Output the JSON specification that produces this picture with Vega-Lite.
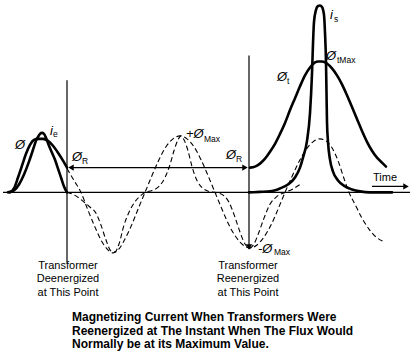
{
  "$schema": "https://vega.github.io/schema/vega-lite/v6.json",
  "width": 415,
  "height": 356,
  "autosize": {"type": "fit", "contains": "padding"},
  "padding": 0,
  "background": "white",
  "config": {"view": {"stroke": null}, "font": "Liberation Sans"},
  "datasets": {
    "thick": [
      {"s": "phi", "x": 10, "v": 0}, {"s": "phi", "x": 14, "v": 4}, {"s": "phi", "x": 18, "v": 15}, {"s": "phi", "x": 22, "v": 27}, {"s": "phi", "x": 26, "v": 39}, {"s": "phi", "x": 30, "v": 48}, {"s": "phi", "x": 34, "v": 53}, {"s": "phi", "x": 38, "v": 54}, {"s": "phi", "x": 43, "v": 54}, {"s": "phi", "x": 48, "v": 52}, {"s": "phi", "x": 53, "v": 47}, {"s": "phi", "x": 58, "v": 40}, {"s": "phi", "x": 63, "v": 32}, {"s": "phi", "x": 67, "v": 25},
      {"s": "ie", "x": 8, "v": 0}, {"s": "ie", "x": 14, "v": 2}, {"s": "ie", "x": 19, "v": 8}, {"s": "ie", "x": 24, "v": 18}, {"s": "ie", "x": 29, "v": 31}, {"s": "ie", "x": 33, "v": 43}, {"s": "ie", "x": 36, "v": 52}, {"s": "ie", "x": 38, "v": 56}, {"s": "ie", "x": 40, "v": 59}, {"s": "ie", "x": 42, "v": 60}, {"s": "ie", "x": 44, "v": 59}, {"s": "ie", "x": 46, "v": 55}, {"s": "ie", "x": 49, "v": 47}, {"s": "ie", "x": 52, "v": 40}, {"s": "ie", "x": 55, "v": 33}, {"s": "ie", "x": 58, "v": 24}, {"s": "ie", "x": 61, "v": 15}, {"s": "ie", "x": 64, "v": 6}, {"s": "ie", "x": 67, "v": 0},
      {"s": "phit", "x": 250, "v": 25}, {"s": "phit", "x": 255, "v": 26}, {"s": "phit", "x": 260, "v": 29}, {"s": "phit", "x": 265, "v": 34}, {"s": "phit", "x": 270, "v": 41}, {"s": "phit", "x": 275, "v": 49}, {"s": "phit", "x": 280, "v": 59}, {"s": "phit", "x": 285, "v": 70}, {"s": "phit", "x": 290, "v": 83}, {"s": "phit", "x": 295, "v": 95}, {"s": "phit", "x": 300, "v": 107}, {"s": "phit", "x": 305, "v": 118}, {"s": "phit", "x": 310, "v": 126}, {"s": "phit", "x": 315, "v": 131}, {"s": "phit", "x": 318, "v": 132}, {"s": "phit", "x": 322, "v": 132}, {"s": "phit", "x": 327, "v": 130}, {"s": "phit", "x": 332, "v": 125}, {"s": "phit", "x": 337, "v": 118}, {"s": "phit", "x": 342, "v": 109}, {"s": "phit", "x": 347, "v": 98}, {"s": "phit", "x": 352, "v": 86}, {"s": "phit", "x": 357, "v": 74}, {"s": "phit", "x": 362, "v": 62}, {"s": "phit", "x": 367, "v": 51}, {"s": "phit", "x": 372, "v": 42}, {"s": "phit", "x": 377, "v": 35}, {"s": "phit", "x": 382, "v": 30}, {"s": "phit", "x": 386, "v": 26},
      {"s": "is", "x": 249, "v": 0}, {"s": "is", "x": 260, "v": 0.5}, {"s": "is", "x": 270, "v": 1}, {"s": "is", "x": 280, "v": 4}, {"s": "is", "x": 288, "v": 8}, {"s": "is", "x": 295, "v": 15}, {"s": "is", "x": 300, "v": 25}, {"s": "is", "x": 303, "v": 35}, {"s": "is", "x": 307, "v": 52}, {"s": "is", "x": 310, "v": 80}, {"s": "is", "x": 312, "v": 120}, {"s": "is", "x": 313, "v": 150}, {"s": "is", "x": 314, "v": 172}, {"s": "is", "x": 316, "v": 184}, {"s": "is", "x": 318, "v": 188}, {"s": "is", "x": 320, "v": 188.5}, {"s": "is", "x": 322, "v": 187}, {"s": "is", "x": 324, "v": 179}, {"s": "is", "x": 325, "v": 161}, {"s": "is", "x": 326, "v": 131}, {"s": "is", "x": 326.5, "v": 101}, {"s": "is", "x": 327, "v": 71}, {"s": "is", "x": 328, "v": 51}, {"s": "is", "x": 330, "v": 33}, {"s": "is", "x": 333, "v": 21}, {"s": "is", "x": 338, "v": 12}, {"s": "is", "x": 345, "v": 6}, {"s": "is", "x": 352, "v": 3}, {"s": "is", "x": 360, "v": 1}, {"s": "is", "x": 370, "v": 0}, {"s": "is", "x": 392, "v": 0}
    ],
    "dashed": [
      {"s": "A", "x": 67, "v": 24}, {"s": "A", "x": 74, "v": 12}, {"s": "A", "x": 81, "v": 0}, {"s": "A", "x": 88, "v": -18}, {"s": "A", "x": 95, "v": -35}, {"s": "A", "x": 101, "v": -48}, {"s": "A", "x": 107, "v": -57}, {"s": "A", "x": 113, "v": -61}, {"s": "A", "x": 119, "v": -57}, {"s": "A", "x": 125, "v": -47}, {"s": "A", "x": 132, "v": -32}, {"s": "A", "x": 138, "v": -17}, {"s": "A", "x": 145, "v": 0}, {"s": "A", "x": 152, "v": 17}, {"s": "A", "x": 159, "v": 33}, {"s": "A", "x": 166, "v": 46}, {"s": "A", "x": 173, "v": 54}, {"s": "A", "x": 180, "v": 57}, {"s": "A", "x": 187, "v": 54}, {"s": "A", "x": 194, "v": 46}, {"s": "A", "x": 201, "v": 33}, {"s": "A", "x": 208, "v": 17}, {"s": "A", "x": 215, "v": 0}, {"s": "A", "x": 222, "v": -17}, {"s": "A", "x": 229, "v": -33}, {"s": "A", "x": 236, "v": -45}, {"s": "A", "x": 243, "v": -53}, {"s": "A", "x": 250, "v": -56}, {"s": "A", "x": 257, "v": -53}, {"s": "A", "x": 264, "v": -45}, {"s": "A", "x": 271, "v": -33}, {"s": "A", "x": 278, "v": -17}, {"s": "A", "x": 285, "v": 0}, {"s": "A", "x": 292, "v": 16}, {"s": "A", "x": 299, "v": 31}, {"s": "A", "x": 306, "v": 43}, {"s": "A", "x": 313, "v": 51}, {"s": "A", "x": 320, "v": 54}, {"s": "A", "x": 326, "v": 52}, {"s": "A", "x": 332, "v": 45}, {"s": "A", "x": 338, "v": 32}, {"s": "A", "x": 344, "v": 14}, {"s": "A", "x": 349, "v": 0}, {"s": "A", "x": 355, "v": -12}, {"s": "A", "x": 362, "v": -26}, {"s": "A", "x": 369, "v": -37}, {"s": "A", "x": 376, "v": -45}, {"s": "A", "x": 385, "v": -50},
      {"s": "B", "x": 67, "v": 0}, {"s": "B", "x": 75, "v": -3}, {"s": "B", "x": 82, "v": -8}, {"s": "B", "x": 89, "v": -14}, {"s": "B", "x": 96, "v": -21}, {"s": "B", "x": 101, "v": -33}, {"s": "B", "x": 106, "v": -48}, {"s": "B", "x": 111, "v": -59}, {"s": "B", "x": 115, "v": -60}, {"s": "B", "x": 119, "v": -52}, {"s": "B", "x": 124, "v": -33}, {"s": "B", "x": 130, "v": -18}, {"s": "B", "x": 136, "v": -8}, {"s": "B", "x": 141, "v": -3}, {"s": "B", "x": 145, "v": 0}, {"s": "B", "x": 152, "v": 2}, {"s": "B", "x": 159, "v": 6}, {"s": "B", "x": 165, "v": 15}, {"s": "B", "x": 170, "v": 28}, {"s": "B", "x": 174, "v": 42}, {"s": "B", "x": 178, "v": 53}, {"s": "B", "x": 181, "v": 57}, {"s": "B", "x": 184, "v": 53}, {"s": "B", "x": 188, "v": 42}, {"s": "B", "x": 192, "v": 26}, {"s": "B", "x": 197, "v": 12}, {"s": "B", "x": 203, "v": 4}, {"s": "B", "x": 209, "v": 1}, {"s": "B", "x": 215, "v": 0}, {"s": "B", "x": 222, "v": -2}, {"s": "B", "x": 229, "v": -10}, {"s": "B", "x": 235, "v": -25}, {"s": "B", "x": 240, "v": -40}, {"s": "B", "x": 245, "v": -52}, {"s": "B", "x": 250, "v": -56}, {"s": "B", "x": 254, "v": -52}, {"s": "B", "x": 259, "v": -40}, {"s": "B", "x": 264, "v": -26}, {"s": "B", "x": 270, "v": -12}, {"s": "B", "x": 277, "v": -4}, {"s": "B", "x": 285, "v": 0}, {"s": "B", "x": 292, "v": 3}, {"s": "B", "x": 300, "v": 8}
    ],
    "lines": [
      {"x": 3, "v": 0, "x2": 410, "v2": 0},
      {"x": 67, "v": 113, "x2": 67, "v2": -71},
      {"x": 249, "v": 138, "x2": 249, "v2": -57},
      {"x": 70, "v": 25, "x2": 246, "v2": 25},
      {"x": 372, "v": 6, "x2": 405, "v2": 6}
    ],
    "heads": [
      {"dir": "left", "x": 71, "v": 25},
      {"dir": "right", "x": 245, "v": 25},
      {"dir": "right", "x": 406, "v": 6},
      {"dir": "down", "x": 249, "v": -55}
    ],
    "main": [
      {"t": "Ø", "x": 15, "v": 48},
      {"t": "i", "x": 50, "v": 62},
      {"t": "Ø", "x": 72, "v": 36},
      {"t": "+Ø", "x": 186, "v": 59},
      {"t": "Ø", "x": 226, "v": 38},
      {"t": "-Ø", "x": 258, "v": -57},
      {"t": "Ø", "x": 277, "v": 116},
      {"t": "Ø", "x": 326, "v": 138},
      {"t": "i", "x": 330, "v": 179}
    ],
    "sub": [
      {"t": "e", "x": 53, "v": 59},
      {"t": "R", "x": 82, "v": 32},
      {"t": "Max", "x": 204, "v": 54},
      {"t": "R", "x": 236, "v": 34},
      {"t": "Max", "x": 274, "v": -60},
      {"t": "t", "x": 287, "v": 112},
      {"t": "tMax", "x": 337, "v": 134},
      {"t": "s", "x": 334, "v": 175}
    ],
    "notes": [
      {"t": "Time", "x": 385, "v": 15},
      {"t": "Transformer", "x": 68, "v": -74},
      {"t": "Deenergized", "x": 68, "v": -87},
      {"t": "at This Point", "x": 68, "v": -101},
      {"t": "Transformer", "x": 248, "v": -74},
      {"t": "Reenergized", "x": 248, "v": -87},
      {"t": "at This Point", "x": 248, "v": -101}
    ],
    "caption": [
      {"t": "Magnetizing Current When Transformers Were", "x": 72, "v": -126},
      {"t": "Reenergized at The Instant When The Flux Would", "x": 72, "v": -139.5},
      {"t": "Normally be at its Maximum Value.", "x": 72, "v": -153}
    ]
  },
  "encoding": {
    "x": {"field": "x", "type": "quantitative", "scale": {"domain": [0, 415], "nice": false, "zero": false}, "axis": null},
    "y": {"field": "v", "type": "quantitative", "scale": {"domain": [-165, 191], "nice": false, "zero": false}, "axis": null}
  },
  "layer": [
    {
      "data": {"name": "lines"},
      "mark": {"type": "rule", "color": "black", "strokeWidth": 1.2},
      "encoding": {"x2": {"field": "x2"}, "y2": {"field": "v2"}}
    },
    {
      "data": {"name": "heads"},
      "mark": {"type": "point", "filled": true, "color": "black", "size": 40, "opacity": 1},
      "encoding": {
        "shape": {"field": "dir", "type": "nominal", "legend": null,
          "scale": {"domain": ["left", "right", "down"], "range": ["triangle-left", "triangle-right", "triangle-down"]}}
      }
    },
    {
      "data": {"name": "dashed"},
      "mark": {"type": "line", "color": "black", "strokeWidth": 1.1, "strokeDash": [5, 3], "interpolate": "monotone"},
      "encoding": {"detail": {"field": "s"}}
    },
    {
      "data": {"name": "thick"},
      "mark": {"type": "line", "color": "black", "strokeWidth": 2.6, "interpolate": "monotone", "strokeCap": "round"},
      "encoding": {"detail": {"field": "s"}}
    },
    {
      "data": {"name": "main"},
      "mark": {"type": "text", "fontSize": 13, "align": "left", "baseline": "middle", "color": "black", "fontStyle": "italic"},
      "encoding": {"text": {"field": "t"}}
    },
    {
      "data": {"name": "sub"},
      "mark": {"type": "text", "fontSize": 8.5, "align": "left", "baseline": "middle", "color": "black"},
      "encoding": {"text": {"field": "t"}}
    },
    {
      "data": {"name": "notes"},
      "mark": {"type": "text", "fontSize": 11, "align": "center", "baseline": "middle", "color": "black"},
      "encoding": {"text": {"field": "t"}}
    },
    {
      "data": {"name": "caption"},
      "mark": {"type": "text", "fontSize": 12, "fontWeight": "bold", "align": "left", "baseline": "middle", "color": "black"},
      "encoding": {"text": {"field": "t"}}
    }
  ]
}
